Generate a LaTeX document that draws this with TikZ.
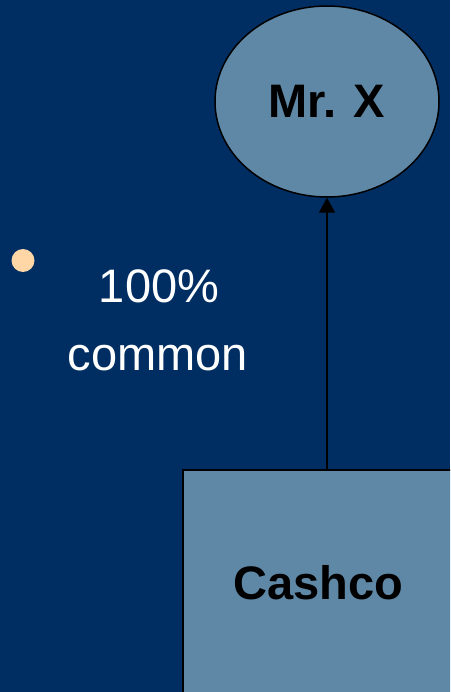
\documentclass[tikz,border=0pt]{standalone}
\usepackage{fontspec}
\setmainfont{Liberation Sans}
\usetikzlibrary{shapes.geometric,arrows.meta}
\definecolor{bgblue}{HTML}{002E62}
\definecolor{boxblue}{HTML}{5F88A6}
\definecolor{peach}{HTML}{FFD6A5}
\tikzset{
  entity/.style={draw=black, fill=boxblue, line width=1.5pt, inner sep=0pt,
    font=\fontsize{47}{56}\selectfont\bfseries, text=black},
  plaintext/.style={text=white, inner sep=0pt, font=\fontsize{47}{56}\selectfont},
  link/.style={draw=black, line width=2pt, -{Triangle[length=15pt,width=16pt]}}
}
\begin{document}
\begin{tikzpicture}[x=1pt,y=-1pt]
\fill[bgblue] (0,0) rectangle (450,692);
\useasboundingbox (0,0) rectangle (450,692);
\clip (0,0) rectangle (450,692);
\node[entity, ellipse, minimum width=224pt, minimum height=191pt] (mrx) at (327,101.5) {Mr. X};
\node[entity, rectangle, minimum width=270pt, minimum height=226pt, line width=2pt] (cashco) at (318,583) {Cashco};
\draw[link] (cashco.north -| mrx.south) -- (mrx.south);
\node[circle, fill=peach, minimum size=23pt, inner sep=0pt] (bullet) at (23,260.5) {};
\node[plaintext, anchor=base] (pct) at (159,302.7) {100\%};
\node[plaintext, anchor=base] (common) at (158,370) {common};
\end{tikzpicture}
\end{document}
